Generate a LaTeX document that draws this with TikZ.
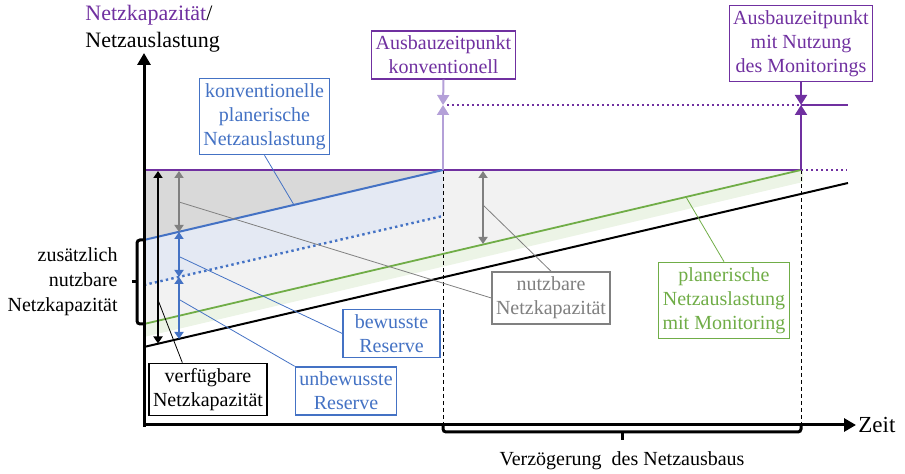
\documentclass[tikz,border=0pt]{standalone}
\usepackage{fontspec}
\setmainfont{Liberation Serif}
\usetikzlibrary{arrows.meta, calc}
\definecolor{netzlila}{RGB}{112,48,160}
\definecolor{hellila}{RGB}{180,160,216}
\definecolor{netzblau}{RGB}{68,114,196}
\definecolor{netzgruen}{RGB}{112,173,71}
\definecolor{netzgrau}{RGB}{128,128,128}
\definecolor{fuelldunkel}{RGB}{217,217,217}
\definecolor{fuellhell}{RGB}{242,242,242}
\definecolor{fuellblau}{RGB}{228,233,243}
\definecolor{fuellgruen}{RGB}{236,244,230}

\begin{document}
\begin{tikzpicture}[x=0.5pt, y=-0.5pt,
                label box/.style={draw=#1, text=#1, fill=white, line width=0.7pt, align=center,
                    inner xsep=2pt, inner ysep=2.5pt},
                label box/.default=black,
                leader/.style={line width=0.4pt},
                dim arrow/.style={{Triangle[length=3.5pt,width=4.5pt]}-{Triangle[length=3.5pt,width=4.5pt]}, line width=1.1pt},
                mark arrow/.style={-{Triangle[length=5pt,width=6pt]}, line width=1pt},
                axis/.style={-{Triangle[length=6pt,width=6.5pt]}, line width=1.5pt},
                bracket/.style={line width=1.5pt, rounded corners=1.5pt}]

            \useasboundingbox (0,0) rectangle (905,474);

            % Eckpunkte
            \coordinate (kap0) at (144,170);
            \coordinate (tk) at (443,170);
            \coordinate (tm) at (801,170);
            \coordinate (konv0) at (144,240);
            \coordinate (dot0) at (144,285);
            \coordinate (dot1) at (443,216);
            \coordinate (gr0) at (144,324);
            \coordinate (bl0) at (144,347);
            \coordinate (bl1) at (848,183);
            \coordinate (neuk) at (443,105);
            \coordinate (neum) at (801,105);

            % Flaechen
            \fill[fuellhell] (kap0) -- (tm) -- (gr0) -- cycle;
            \fill[fuellgruen] (gr0) -- (tm) -- (803,170) -- (803,182) -- (144,337) -- cycle;
            \fill[fuelldunkel] (kap0) -- (tk) -- (konv0) -- cycle;
            \fill[fuellblau] (konv0) -- (tk) -- (dot1) -- (dot0) -- cycle;

            % Zeitpunkte
            \draw[line width=0.5pt, dash pattern=on 2pt off 1.5pt] (tk) -- (443,425);
            \draw[line width=0.5pt, dash pattern=on 2pt off 1.5pt] (tm) -- (801,425);

            % Kapazitaet und Auslastung
            \draw[netzlila, line width=1pt] (kap0) -- (tm);
            \draw[netzlila, line width=1pt, dash pattern=on 1pt off 1.5pt] (tm) -- (847,170);
            \draw[netzblau, line width=1pt] (konv0) -- (tk);
            \draw[netzblau, line width=1.2pt, dash pattern=on 1.2pt off 1.6pt] (dot0) -- (dot1);
            \draw[netzgruen, line width=0.9pt] (gr0) -- (tm);
            \draw[line width=1pt] (bl0) -- (bl1);

            % Boxen
            \node[label box=netzlila] (ausbaukonv) at (443.5,55) {Ausbauzeitpunkt\\konventionell};
            \node[label box=netzlila] (ausbaumon) at (801,43.5) {Ausbauzeitpunkt\\mit Nutzung\\des Monitorings};
            \node[label box=netzblau] (plankonv) at (264.5,116.5) {konventionelle\\planerische\\Netzauslastung};
            \node[label box=netzgrau] (nutzbar) at (551,298) {nutzbare\\Netzkapazität};
            \node[label box=netzblau, minimum width=48.5pt] (bewusst) at (391.5,333.5) {bewusste\\Reserve};
            \node[label box=netzblau] (unbewusst) at (346,391) {unbewusste\\Reserve};
            \node[label box] (verfuegbar) at (208,389.5) {verfügbare\\Netzkapazität};
            \node[label box=netzgruen] (planmon) at (724,300.5) {planerische\\Netzauslastung\\mit Monitoring};

            % Ausbau
            \draw[mark arrow, hellila] (tk) -- (neuk);
            \draw[mark arrow, hellila] (ausbaukonv.south) -- (neuk);
            \draw[netzlila, line width=1pt, dash pattern=on 1pt off 1.5pt] (447,105) -- (neum);
            \draw[mark arrow, netzlila] (tm) -- (neum);
            \draw[mark arrow, netzlila] (ausbaumon.south) -- (neum);
            \draw[netzlila, line width=1pt] (neum) -- (848,105);

            % Abstaende
            \draw[dim arrow, line width=0.9pt] (158,171) -- (158,343.5);
            \draw[dim arrow, netzgrau] (179,171) -- (179,232);
            \draw[dim arrow, netzblau, line width=1.3pt] (179,232) -- (179,277);
            \draw[dim arrow, netzblau, line width=1.3pt] (179,277) -- (179,339);
            \draw[dim arrow, netzgrau] (483,171) -- (483,244);

            % Hinweislinien
            \coordinate (pk) at (294,205);
            \coordinate (pn1) at (179,202);
            \coordinate (pn2) at (483,205);
            \coordinate (pb) at (180,257);
            \coordinate (pu) at (180,300);
            \coordinate (pv) at (158,300);
            \coordinate (pg) at (686,197);
            \draw[leader, netzblau] (plankonv.south) -- (pk);
            \draw[leader, netzgrau] (pn1) -- (nutzbar.west);
            \draw[leader, netzgrau] (pn2) -- (nutzbar.north);
            \draw[leader, netzblau] (pb) -- (bewusst.west);
            \draw[leader, netzblau] (pu) -- (unbewusst.north west);
            \draw[leader] (pv) -- ([xshift=17pt]verfuegbar.north west);
            \draw[leader, netzgruen] (pg) -- (planmon.north);

            % Achsen
            \draw[axis] (144,427) -- (144,53);
            \draw[axis] (143,425) -- (856,425);
            \node[anchor=west, inner sep=1pt, font=\fontsize{11.5}{14}\selectfont] (zeit) at (856,425) {Zeit};
            \node[anchor=north west, align=left, inner sep=0pt, font=\fontsize{11}{13.5}\selectfont] (ytitel) at (85,5) {\textcolor{netzlila}{Netzkapazität}/\\Netzauslastung};

            % Klammern
            \draw[bracket] (144,240) -- (137,240) -- (137,324) -- (144,324);
            \draw[line width=1.5pt] (137,282) -- (132,282);
            \node[anchor=east, align=right, inner sep=1pt, font=\fontsize{10}{12.5}\selectfont] (zusatz) at (120,282) {zusätzlich\\nutzbare\\Netzkapazität};
            \draw[bracket] (443,425) -- (443,432) -- (801,432) -- (801,425);
            \draw[line width=1.5pt] (622,432) -- (622,440);
            \node (verz) at (622,461) {Verzögerung\ \ des Netzausbaus};
        \end{tikzpicture}
\end{document}
